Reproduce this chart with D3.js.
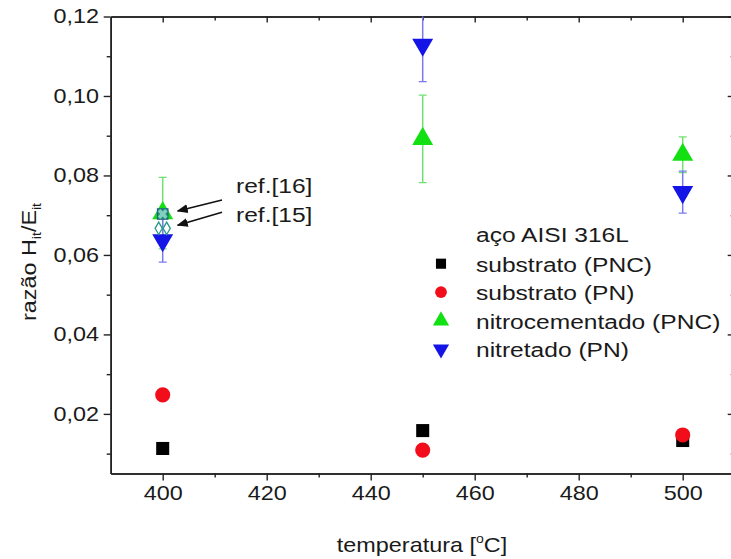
<!DOCTYPE html>
<html>
<head>
<meta charset="utf-8">
<script src="https://cdn.jsdelivr.net/npm/d3@7"></script>
<style>
  body { margin: 0; background: #fff; }
  svg text { font-family: "Liberation Sans", Arial, sans-serif; fill: #1a1a1a; }
</style>
</head>
<body>
<svg id="chart" width="731" height="559"></svg>
<script>
const temps = [400, 450, 500];
const substratoPNC = [0.0113, 0.0158, 0.0133];
const substratoPN = [0.0248, 0.0109, 0.0147];
const nitrocementadoPNC = [0.0705, 0.0892, 0.0852];
const nitrocementadoErr = [0.009, 0.011, 0.0045];
const nitretadoPN = [0.0637, 0.1129, 0.0758];
const nitretadoErr = [0.0055, 0.0093, 0.0053];
const refTemps = [400, 400];
const refValues = [0.0703, 0.0667];
const refLabels = ["ref.[16]", "ref.[15]"];
const xTicks = [400, 420, 440, 460, 480, 500];
const yTicks = [0.02, 0.04, 0.06, 0.08, 0.10, 0.12];
const legendLabels = ["substrato (PNC)", "substrato (PN)", "nitrocementado (PNC)", "nitretado (PN)"];

const svg = d3.select('#chart');
const sx = 1.17; // the original lettering is stretched horizontally

const x = d3.scaleLinear().domain([390, 510]).range([110.7, 734.7]);
const y = d3.scaleLinear().domain([0.005, 0.12]).range([473.5, 16.5]);
const comma = d3.formatLocale({ decimal: ',', thousands: '.', grouping: [3], currency: ['', ''] }).format('.2f');

const frame = svg.append('g');
const stroke = '#222';

// axes
const bottom = frame.append('g').attr('transform', `translate(0,${y.range()[0]})`)
  .call(d3.axisBottom(x).tickValues(xTicks).tickSize(7).tickSizeOuter(0).tickPadding(2));
bottom.selectAll('text').attr('font-size', 20).attr('dy', '0.9em')
  .attr('transform', `scale(${sx},1)`);
frame.append('g').attr('transform', `translate(0,${y.range()[0]})`)
  .call(d3.axisBottom(x).tickValues(d3.range(410, 510, 20)).tickSize(4).tickFormat('').tickSizeOuter(0));

const left = frame.append('g').attr('transform', `translate(${x.range()[0]},0)`)
  .call(d3.axisLeft(y).tickValues(yTicks).tickFormat(comma).tickSize(7).tickSizeOuter(0).tickPadding(3));
left.selectAll('text').attr('font-size', 20).attr('transform', `scale(${sx},1)`);
frame.append('g').attr('transform', `translate(${x.range()[0]},0)`)
  .call(d3.axisLeft(y).tickValues(d3.range(0.01, 0.12, 0.02)).tickSize(4).tickFormat('').tickSizeOuter(0));

frame.append('g').attr('transform', `translate(0,${y.range()[1]})`)
  .call(d3.axisTop(x).tickValues(xTicks).tickSize(-6).tickFormat('').tickSizeOuter(0));
frame.append('g').attr('transform', `translate(0,${y.range()[1]})`)
  .call(d3.axisTop(x).tickValues(d3.range(410, 510, 20)).tickSize(-4).tickFormat('').tickSizeOuter(0));
frame.append('g').attr('transform', `translate(${x.range()[1]},0)`)
  .call(d3.axisRight(y).tickValues(yTicks).tickSize(-7).tickFormat('').tickSizeOuter(0));
frame.append('g').attr('transform', `translate(${x.range()[1]},0)`)
  .call(d3.axisRight(y).tickValues(d3.range(0.01, 0.12, 0.02)).tickSize(-4).tickFormat('').tickSizeOuter(0));

frame.selectAll('.domain').attr('stroke', stroke).attr('stroke-width', 1.6);
frame.selectAll('.tick line').attr('stroke', stroke).attr('stroke-width', 1.4);

// axis titles
const xTitle = svg.append('text')
  .attr('transform', `translate(422,552) scale(${sx},1)`)
  .attr('text-anchor', 'middle').attr('font-size', 20);
xTitle.append('tspan').text('temperatura [');
xTitle.append('tspan').attr('font-size', 12).attr('dy', -9).text('o');
xTitle.append('tspan').attr('dy', 9).text('C]');

const yTitle = svg.append('text')
  .attr('transform', `translate(36,262) rotate(-90) scale(${sx},1)`)
  .attr('text-anchor', 'middle').attr('font-size', 20);
yTitle.append('tspan').text('razão H');
yTitle.append('tspan').attr('font-size', 12).attr('dy', 5).text('it');
yTitle.append('tspan').attr('dy', -5).text('/E');
yTitle.append('tspan').attr('font-size', 12).attr('dy', 5).text('it');

const plot = svg.append('g');
plot.append('clipPath').attr('id', 'clip').append('rect')
  .attr('x', x.range()[0]).attr('y', y.range()[1])
  .attr('width', x.range()[1] - x.range()[0]).attr('height', y.range()[0] - y.range()[1]);

function errorBars(vals, errs, color) {
  const g = plot.append('g').attr('clip-path', 'url(#clip)');
  temps.forEach((t, i) => {
    const cx = x(t), hi = y(vals[i] + errs[i]), lo = y(vals[i] - errs[i]);
    g.append('line').attr('x1', cx).attr('x2', cx).attr('y1', hi).attr('y2', lo)
      .attr('stroke', color).attr('stroke-width', 1.5);
    [hi, lo].forEach(yy => g.append('line').attr('x1', cx - 4).attr('x2', cx + 4)
      .attr('y1', yy).attr('y2', yy).attr('stroke', color).attr('stroke-width', 1.3));
  });
}
errorBars(nitrocementadoPNC, nitrocementadoErr, '#70e070');
errorBars(nitretadoPN, nitretadoErr, '#7a7aee');

const series = [
  { vals: substratoPNC, sym: d3.symbolSquare, size: 170, color: '#000', rot: 0 },
  { vals: substratoPN, sym: d3.symbolCircle, size: 180, color: '#f20d1a', rot: 0 },
  { vals: nitrocementadoPNC, sym: d3.symbolTriangle, size: 190, color: '#12e012', rot: 0 },
  { vals: nitretadoPN, sym: d3.symbolTriangle, size: 190, color: '#1414e6', rot: 180 }
];
series.forEach(s => {
  plot.append('g').selectAll('path').data(temps).join('path')
    .attr('d', d3.symbol(s.sym, s.size))
    .attr('transform', (t, i) => `translate(${x(t)},${y(s.vals[i])}) rotate(${s.rot})`)
    .attr('fill', s.color);
});

// literature references at 400 °C
const refs = plot.append('g');
refs.append('path').attr('d', d3.symbol(d3.symbolSquare, 110))
  .attr('transform', `translate(${x(refTemps[0])},${y(refValues[0])})`)
  .attr('fill', '#2f8f6f').attr('stroke', '#1f5f8f').attr('stroke-width', 1.2);
refs.append('path').attr('d', d3.symbol(d3.symbolCross, 60))
  .attr('transform', `translate(${x(refTemps[0])},${y(refValues[0])}) rotate(45)`)
  .attr('fill', '#7fd0c0');
[-4, 4].forEach(dx => refs.append('path').attr('d', d3.symbol(d3.symbolDiamond, 45))
  .attr('transform', `translate(${x(refTemps[1]) + dx},${y(refValues[1])})`)
  .attr('fill', '#fff').attr('stroke', '#2a9a8a').attr('stroke-width', 1.3));

const defs = svg.append('defs');
defs.append('marker').attr('id', 'arrow').attr('viewBox', '0 0 10 10')
  .attr('refX', 9).attr('refY', 5).attr('markerWidth', 7).attr('markerHeight', 7)
  .attr('orient', 'auto').append('path').attr('d', 'M0,1 L10,5 L0,9 z').attr('fill', '#111');

refLabels.forEach((lab, i) => {
  const ty = y(refValues[i]);
  svg.append('line').attr('x1', 222).attr('y1', ty - 14 - i * 2).attr('x2', x(refTemps[i]) + 15).attr('y2', ty - 3)
    .attr('stroke', '#111').attr('stroke-width', 1.6).attr('marker-end', 'url(#arrow)');
  svg.append('text').attr('transform', `translate(236,${[193, 222][i]}) scale(${sx},1)`)
    .attr('font-size', 21).text(lab);
});

// legend
const legend = svg.append('g');
legend.append('text').attr('transform', `translate(476,242) scale(${sx},1)`)
  .attr('font-size', 21).text('aço AISI 316L');
legendLabels.forEach((lab, i) => {
  const by = 271.7 + i * 28.5;
  const s = series[i];
  legend.append('path').attr('d', d3.symbol(s.sym, s.size * 0.6))
    .attr('transform', `translate(441,${by - 8}) rotate(${s.rot})`).attr('fill', s.color);
  legend.append('text').attr('transform', `translate(476,${by}) scale(${sx},1)`)
    .attr('font-size', 21).text(lab);
});
</script>
</body>
</html>
